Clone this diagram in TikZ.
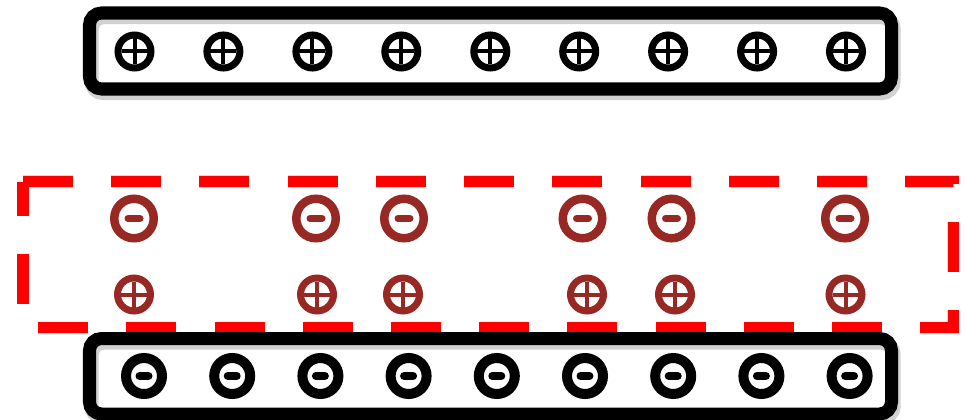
\documentclass[tikz,border=0pt]{standalone}
\usetikzlibrary{calc}

\definecolor{ionRed}{RGB}{152,40,36}

\begin{document}
\begin{tikzpicture}[x=0.025cm, y=-0.025cm, line cap=butt, line join=miter]

% ---------------- styles ----------------
\tikzset{
  plate/.style={draw=black, line width=0.325cm, rounded corners=0.3cm},
  plateShadow/.style={draw=black, opacity=0.18, line width=0.36cm, rounded corners=0.3cm},
  layer/.style={draw=red, line width=0.275cm, dash pattern=on 1.25cm off 0.955cm},
  layerShadow/.style={draw=black, opacity=0.15, line width=0.3cm, dash pattern=on 1.25cm off 0.955cm},
  posRing/.style={line width=0.175cm},
  posBar/.style={line width=0.1cm},
  negRing/.style={line width=0.25cm},
  negBar/.style={line width=0.2cm, line cap=round},
  ionRing/.style={draw=ionRed, line width=0.2125cm},
  ionBar/.style={draw=ionRed, line width=0.175cm, line cap=round}
}

\useasboundingbox (0,0) rectangle (966,420);

% ---------------- corners ----------------
\coordinate (layerTL) at (23,181.5);
\coordinate (layerTR) at (953,181.5);
\coordinate (layerBR) at (953,327.5);
\coordinate (layerBL) at (23,327.5);

% ---------------- dashed charge layer ----------------
\draw[layerShadow, shift={(2,4)}] (layerTL) -- (layerTR) -- (layerBR) -- (layerBL) -- (layerTL);
\draw[layer] (layerTL) -- (layerTR) -- (layerBR) -- (layerBL) -- (layerTL);

% ---------------- plates ----------------
\draw[plateShadow, shift={(2,4)}] (89.5,13) rectangle (891.5,89);
\draw[plate] (89.5,13) rectangle (891.5,89);
\draw[plateShadow, shift={(2,4)}] (89.5,338.5) rectangle (891.5,414);
\draw[plate] (89.5,338.5) rectangle (891.5,414);

% positive plate charges
\foreach \cx in {134.5,223.4,312.4,401.3,490.3,579.2,668.1,757.1,846} {
  \draw[posRing] (\cx,51.5) circle (16.5);
  \draw[posBar] (\cx-13,51.5) -- (\cx+13,51.5);
  \draw[posBar] (\cx,38.5) -- (\cx,64.5);
}

% negative plate charges
\foreach \cx in {144,232.2,320.4,408.6,496.8,585,673.2,761.4,849.6} {
  \draw[negRing] (\cx,376) circle (18);
  \draw[negBar] (\cx-4.5,376) -- (\cx+4.5,376);
}

% ---------------- induced charges in the layer ----------------
\foreach \cx in {134,316,404,582.5,671.5,845} {
  \draw[ionRing] (\cx,218.5) circle (19.75);
  \draw[ionBar] (\cx-6,218.5) -- (\cx+6,218.5);
}
\foreach \cx in {134,317,403,587,675,845.5} {
  \draw[ionRing, line width=0.175cm] (\cx,294.5) circle (16.5);
  \draw[ionBar, line width=0.1cm, line cap=butt] (\cx-13,294.5) -- (\cx+13,294.5);
  \draw[ionBar, line width=0.1cm, line cap=butt] (\cx,281.5) -- (\cx,307.5);
}

\end{tikzpicture}
\end{document}
